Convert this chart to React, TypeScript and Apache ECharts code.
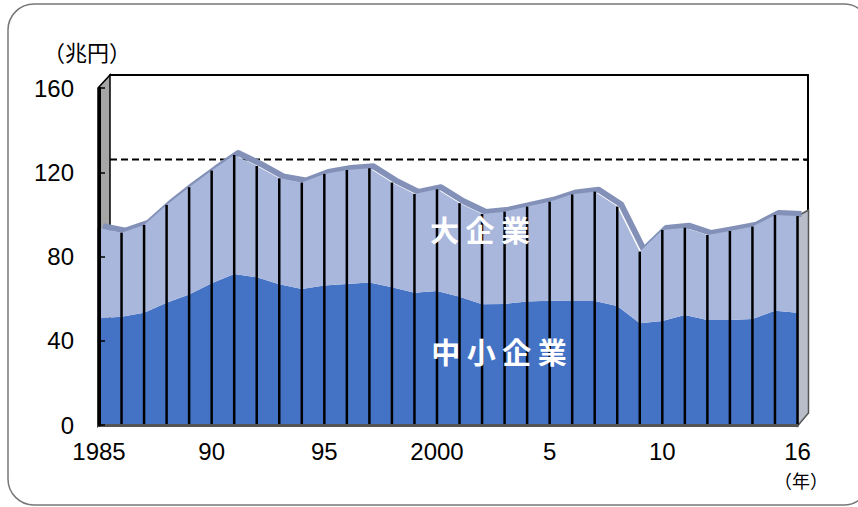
import React, { useEffect, useRef } from "react";
import * as echarts from "echarts";

const years = ["1985","1986","1987","1988","1989","1990","1991","1992","1993","1994","1995","1996","1997","1998","1999","2000","2001","2002","2003","2004","2005","2006","2007","2008","2009","2010","2011","2012","2013","2014","2015","2016"];
const sme = [50.7,51.4,53.3,58.1,62.0,67.3,71.7,70.1,66.8,64.6,66.2,67.0,67.6,65.4,62.8,63.6,60.9,57.3,57.5,58.6,59.0,58.9,58.9,56.5,48.3,49.4,52.2,49.9,49.9,50.3,54.3,53.3];
const large = [42.8,39.9,41.7,46.4,50.9,53.5,56.5,52.9,50.3,50.5,53.0,54.1,54.3,49.7,46.9,48.3,44.4,42.9,43.8,45.1,47.0,50.6,51.9,47.2,34.0,43.2,41.5,40.3,42.2,43.9,45.4,45.9];
const xLabelIndex = [0, 5, 10, 15, 20, 25, 31];
const xLabelText = ["1985", "90", "95", "2000", "5", "10", "16"];
const yTicks = { min: 0, max: 160, interval: 40 };
const refLine = 120;

const NUM_FONT = "'Liberation Sans', Arial, sans-serif";
const JP_FONT = "'Noto Sans CJK JP', sans-serif";

export default function App() {
  const ref = useRef<HTMLDivElement>(null);
  useEffect(() => {
    document.body.style.margin = "0";
    if (!ref.current) return;
    const chart = echarts.init(ref.current, null, { renderer: "svg" });
    const total = sme.map((v, i) => +(v + large[i]).toFixed(1));

    const baseGraphic: any[] = [
      {
        type: "rect",
        shape: { x: 8, y: 4, width: 862, height: 501, r: 26 },
        style: { fill: "none", stroke: "#777", lineWidth: 1.5 },
        z: 100,
        silent: true,
      },
      {
        type: "polygon",
        shape: { points: [[98, 88], [110, 75], [110, 413], [98, 426]] },
        style: { fill: "#a6a6a6", stroke: "#000", lineWidth: 1.5 },
        z: 0,
        silent: true,
      },
      {
        type: "text",
        style: { text: "（兆円）", x: 43, y: 51, fontFamily: JP_FONT, fontSize: 22, fill: "#000", verticalAlign: "middle" },
        z: 10,
      },
      {
        type: "text",
        style: { text: "（年）", x: 801, y: 480, fontFamily: JP_FONT, fontSize: 18, fill: "#000", align: "center", verticalAlign: "middle" },
        z: 10,
      },
      {
        type: "text",
        style: { text: "大 企 業", x: 480, y: 229, fontFamily: JP_FONT, fontSize: 29, fontWeight: "bold", fill: "#fff", align: "center", verticalAlign: "middle" },
        z: 10,
      },
      {
        type: "text",
        style: { text: "中 小 企 業", x: 499, y: 351, fontFamily: JP_FONT, fontSize: 29, fontWeight: "bold", fill: "#fff", align: "center", verticalAlign: "middle" },
        z: 10,
      },
    ];

    const option: any = {
      animation: false,
      backgroundColor: "#fff",
      grid: [
        { left: 99, top: 88, width: 698.5, height: 337 },
        { left: 110, top: 75, width: 698, height: 338 },
        { left: 103, top: 86, width: 698.5, height: 337 },
      ],
      xAxis: [
        {
          gridIndex: 0,
          type: "category",
          data: years,
          boundaryGap: false,
          axisLine: { show: true, lineStyle: { color: "#555", width: 3 } },
          axisTick: { show: false },
          axisLabel: {
            interval: (idx: number) => xLabelIndex.indexOf(idx) >= 0,
            formatter: (_v: string, idx: number) => {
              const k = xLabelIndex.indexOf(idx);
              return k >= 0 ? xLabelText[k] : "";
            },
            fontFamily: NUM_FONT,
            fontSize: 24,
            color: "#000",
            margin: 14,
            showMinLabel: true,
            showMaxLabel: true,
          },
          splitLine: { show: false },
          z: 5,
        },
        {
          gridIndex: 1,
          type: "value",
          min: 0,
          max: 1,
          position: "top",
          axisLine: { show: true, onZero: false, lineStyle: { color: "#000", width: 2 } },
          axisTick: { show: false },
          axisLabel: { show: false },
          splitLine: { show: false },
        },
        {
          gridIndex: 2,
          type: "category",
          data: years,
          boundaryGap: false,
          show: false,
        },
      ],
      yAxis: [
        {
          gridIndex: 0,
          type: "value",
          min: yTicks.min,
          max: yTicks.max,
          interval: yTicks.interval,
          axisLine: { show: true, lineStyle: { color: "#000", width: 3 } },
          axisTick: { show: true, inside: true, length: 6, lineStyle: { color: "#000", width: 1.5 } },
          axisLabel: { fontFamily: NUM_FONT, fontSize: 24, color: "#000", margin: 25 },
          splitLine: { show: false },
          z: 6,
        },
        {
          gridIndex: 1,
          type: "value",
          min: yTicks.min,
          max: yTicks.max,
          interval: yTicks.interval,
          position: "right",
          axisLine: { show: true, onZero: false, lineStyle: { color: "#000", width: 2 } },
          axisTick: { show: true, inside: true, length: 4, lineStyle: { color: "#000", width: 1.5 } },
          axisLabel: { show: false },
          splitLine: { show: false },
        },
        {
          gridIndex: 2,
          type: "value",
          min: yTicks.min,
          max: yTicks.max,
          show: false,
        },
      ],
      series: [
        {
          name: "ref",
          type: "line",
          xAxisIndex: 1,
          yAxisIndex: 1,
          data: [[0, refLine], [1, refLine]],
          symbol: "none",
          lineStyle: { color: "#000", width: 2, type: [7, 4] },
          z: 0,
          silent: true,
        },
        {
          name: "band",
          type: "line",
          xAxisIndex: 2,
          yAxisIndex: 2,
          data: total,
          symbol: "none",
          lineStyle: { color: "#8391b8", width: 6, join: "round" },
          z: 1,
          silent: true,
        },
        {
          name: "中小企業",
          type: "line",
          stack: "a",
          data: sme,
          symbol: "none",
          lineStyle: { width: 0, opacity: 0 },
          areaStyle: { color: "#4472c4", opacity: 1 },
          z: 2,
        },
        {
          name: "大企業",
          type: "line",
          stack: "a",
          data: large,
          symbol: "none",
          lineStyle: { width: 0, opacity: 0 },
          areaStyle: { color: "#a9b7dc", opacity: 1 },
          z: 2,
        },
        {
          name: "lines",
          type: "custom",
          data: total.map((v, i) => [i, v]),
          renderItem: (_p: any, api: any) => {
            const i = api.value(0);
            const v = api.value(1);
            const p0 = api.coord([i, 0]);
            const p1 = api.coord([i, v]);
            return {
              type: "line",
              shape: { x1: p0[0], y1: p0[1] + 1, x2: p1[0], y2: p1[1] },
              style: { stroke: "#000", lineWidth: 2.5 },
            };
          },
          z: 3,
          silent: true,
        },
      ],
      graphic: baseGraphic,
    };
    chart.setOption(option);

    // right side face of the data block, from the library's own scale
    const last = total.length - 1;
    const pTop = chart.convertToPixel({ gridIndex: 0 }, [last, total[last]]) as number[];
    const pBot = chart.convertToPixel({ gridIndex: 0 }, [last, 0]) as number[];
    const sideFace = {
      type: "polygon",
      shape: {
        points: [
          [pBot[0], pBot[1] + 1],
          [pBot[0] + 11, pBot[1] - 12],
          [pBot[0] + 11, pTop[1] - 6],
          [pTop[0], pTop[1]],
        ],
      },
      style: { fill: "#b9bdca", stroke: "#555", lineWidth: 1.5 },
      z: 1,
      silent: true,
    };
    chart.setOption({ graphic: [...baseGraphic, sideFace] }, { replaceMerge: ["graphic"] });

    return () => chart.dispose();
  }, []);
  return <div ref={ref} style={{ width: 858, height: 507 }} />;
}
